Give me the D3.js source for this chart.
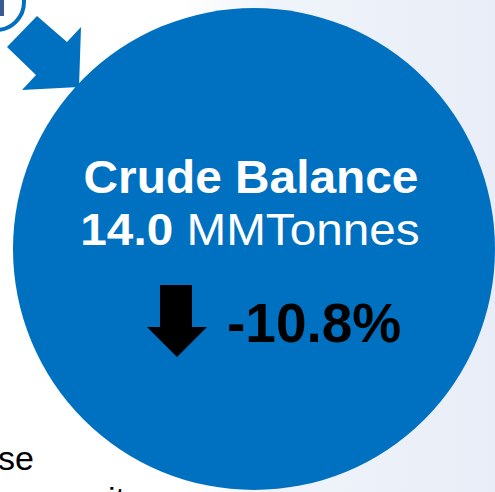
<!DOCTYPE html>
<html>
<head>
<meta charset="utf-8">
<script src="https://cdn.jsdelivr.net/npm/d3@7"></script>
<style>
html,body{margin:0;padding:0;background:#fff;}
svg{display:block;}
</style>
</head>
<body>
<svg id="myGraph" width="495" height="492"></svg>
<script>
// values shown in the bubble
var titles = ["Crude Balance"];
var values = [14.0];
var units = ["MMTonnes"];
var changes = [-10.8];
var sideText = ["se", "it"];

var svgWidth = 495;
var svgHeight = 492;
var blue = "#0070c0";
var font = "Liberation Sans, Arial, sans-serif";

var svg = d3.select("#myGraph");

// light panel behind the right side
var defs = svg.append("defs");
var grad = defs.append("linearGradient")
	.attr("id", "bg")
	.attr("x1", "0").attr("x2", "1").attr("y1", "0").attr("y2", "0");
grad.append("stop").attr("offset", "0.36").attr("stop-color", "#ffffff");
grad.append("stop").attr("offset", "0.55").attr("stop-color", "#f0f4fa");
grad.append("stop").attr("offset", "1").attr("stop-color", "#e8edf7");

svg.append("rect")
	.attr("width", svgWidth)
	.attr("height", svgHeight)
	.attr("fill", "url(#bg)");

// text cut off at the left / bottom
svg.append("text")
	.attr("x", -2)
	.attr("y", 470)
	.attr("font-family", font)
	.attr("font-size", 34)
	.attr("fill", "#000")
	.text(sideText[0]);
svg.append("text")
	.attr("x", 108)
	.attr("y", 511)
	.attr("font-family", font)
	.attr("font-size", 34)
	.attr("fill", "#000")
	.text(sideText[1]);

// step marker ring top left
svg.append("circle")
	.attr("cx", -4).attr("cy", 2).attr("r", 28)
	.attr("fill", "none")
	.attr("stroke", blue)
	.attr("stroke-width", 4);
svg.append("rect")
	.attr("x", 0).attr("y", 0).attr("width", 4).attr("height", 16)
	.attr("fill", "#3a5a96");

// pointer arrow
var pointer = [[37,16],[7,47],[36,75],[22,90],[79,87],[81,27],[67,42]];
svg.append("path")
	.attr("d", d3.line()(pointer) + "Z")
	.attr("fill", blue);

// bubble
var cx = 254, cy = 249, r = 241;
svg.append("circle")
	.attr("cx", cx).attr("cy", cy).attr("r", r)
	.attr("fill", blue);

svg.append("text")
	.attr("transform", "translate(251,193) scale(1.04,1)")
	.attr("text-anchor", "middle")
	.attr("font-family", font)
	.attr("font-weight", "bold")
	.attr("font-size", 46)
	.attr("fill", "#fff")
	.text(titles[0]);

var line2 = svg.append("text")
	.attr("transform", "translate(250,245) scale(1.06,1)")
	.attr("text-anchor", "middle")
	.attr("font-family", font)
	.attr("font-size", 45)
	.attr("fill", "#fff");
line2.append("tspan").attr("font-weight", "bold").text(values[0].toFixed(1));
line2.append("tspan").text(" " + units[0]);

// change indicator
var down = [[160,285],[192,285],[192,327],[207,327],[177,357],[147,327],[160,327]];
svg.append("path")
	.attr("d", d3.line()(down) + "Z")
	.attr("fill", changes[0] < 0 ? "#000" : "none");

svg.append("text")
	.attr("x", 227)
	.attr("y", 342)
	.attr("font-family", font)
	.attr("font-weight", "bold")
	.attr("font-size", 55)
	.attr("fill", "#000")
	.text(changes[0].toFixed(1) + "%");
</script>
</body>
</html>
